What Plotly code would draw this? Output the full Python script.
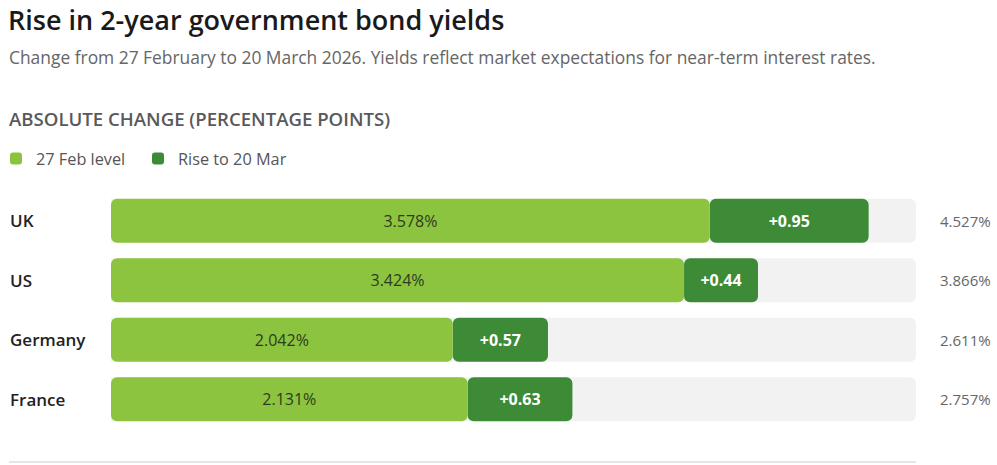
import plotly.graph_objects as go

# ---- data ----
countries = ["UK", "US", "Germany", "France"]
level_27feb = [3.578, 3.424, 2.042, 2.131]
level_20mar = [4.527, 3.866, 2.611, 2.757]
rise_labels = ["+0.95", "+0.44", "+0.57", "+0.63"]
scale_max = 4.81

LIGHT = "#8cc43f"
DARK = "#3d8b37"
TRACK = "#f2f2f2"
FONT = "Open Sans"

rise = [t - l for t, l in zip(level_20mar, level_27feb)]

W, H = 997, 465
ML, MR, MT, MB = 111, 81, 191, 36
pw = W - ML - MR
ph = H - MT - MB


def px_x(px):
    return (px - ML) / pw


def px_y(py):
    return (H - MB - py) / ph


fig = go.Figure()

# background track
fig.add_trace(go.Bar(
    y=countries, x=[scale_max] * len(countries), orientation="h",
    marker=dict(color=TRACK, cornerradius=6, line=dict(width=0)),
    showlegend=False, hoverinfo="skip",
))
# rise (dark)
fig.add_trace(go.Bar(
    name="Rise to 20 Mar", legend="legend2",
    y=countries, x=rise, base=level_27feb, orientation="h",
    marker=dict(color=DARK, cornerradius=6, line=dict(width=0)),
    text=rise_labels, textposition="inside", insidetextanchor="middle",
    textangle=0,
    insidetextfont=dict(family=FONT, size=16, color="white", weight=700),
))
# 27 Feb level (light) drawn from level back to zero so the rounded end is at the left
fig.add_trace(go.Bar(
    name="27 Feb level", legend="legend",
    y=countries, x=[-v for v in level_27feb], base=level_27feb, orientation="h",
    marker=dict(color=LIGHT, cornerradius=6, line=dict(width=0)),
    text=[f"{v:.3f}%" for v in level_27feb], textposition="inside",
    insidetextanchor="middle", textangle=0,
    insidetextfont=dict(family=FONT, size=16, color="#2e3b22"),
))

annotations = []
for c in countries:
    annotations.append(dict(
        x=px_x(8), xref="paper", y=c, yref="y", xanchor="left", yanchor="middle",
        text=c, showarrow=False,
        font=dict(family=FONT, size=17, color="#222222", weight=600),
    ))
for c, t in zip(countries, level_20mar):
    annotations.append(dict(
        x=px_x(938), xref="paper", y=c, yref="y", xanchor="left", yanchor="middle",
        text=f"{t:.3f}%", showarrow=False,
        font=dict(family=FONT, size=15, color="#666666"),
    ))

# titles
annotations.append(dict(
    x=px_x(7), xref="paper", y=px_y(0), yref="paper", xanchor="left", yanchor="top",
    text="Rise in 2-year government bond yields", showarrow=False, borderpad=0,
    font=dict(family=FONT, size=27, color="#1a1a1a", weight=600),
))
annotations.append(dict(
    x=px_x(7), xref="paper", y=px_y(57), yref="paper", xanchor="left", yanchor="middle",
    text="Change from 27 February to 20 March 2026. Yields reflect market expectations for near-term interest rates.",
    showarrow=False, font=dict(family=FONT, size=17.4, color="#666666"),
))
annotations.append(dict(
    x=px_x(7), xref="paper", y=px_y(118), yref="paper", xanchor="left", yanchor="middle",
    text="ABSOLUTE CHANGE (PERCENTAGE POINTS)", showarrow=False,
    font=dict(family=FONT, size=18.6, color="#595959", weight=600),
))

shapes = [dict(
    type="line", xref="paper", yref="paper",
    x0=px_x(9), x1=px_x(916), y0=px_y(462), y1=px_y(462),
    line=dict(color="#dddddd", width=1.5),
)]

legend_common = dict(orientation="h", xanchor="left", y=px_y(159), yanchor="middle",
                     font=dict(family=FONT, size=16.3, color="#555555"),
                     itemwidth=30, bgcolor="rgba(0,0,0,0)")

fig.update_layout(
    width=W, height=H,
    margin=dict(l=ML, r=MR, t=MT, b=MB, autoexpand=False),
    paper_bgcolor="white", plot_bgcolor="white",
    barmode="overlay", bargap=0.258,
    xaxis=dict(range=[0, scale_max], visible=False, fixedrange=True),
    yaxis=dict(categoryorder="array", categoryarray=countries, autorange="reversed",
               visible=False, fixedrange=True),
    legend=dict(x=px_x(-4), **legend_common),
    legend2=dict(x=px_x(138), **legend_common),
    annotations=annotations, shapes=shapes,
    font=dict(family=FONT),
)

fig.write_html("out.html", config={"displayModeBar": False},
               post_script="document.body.style.margin='0';")
